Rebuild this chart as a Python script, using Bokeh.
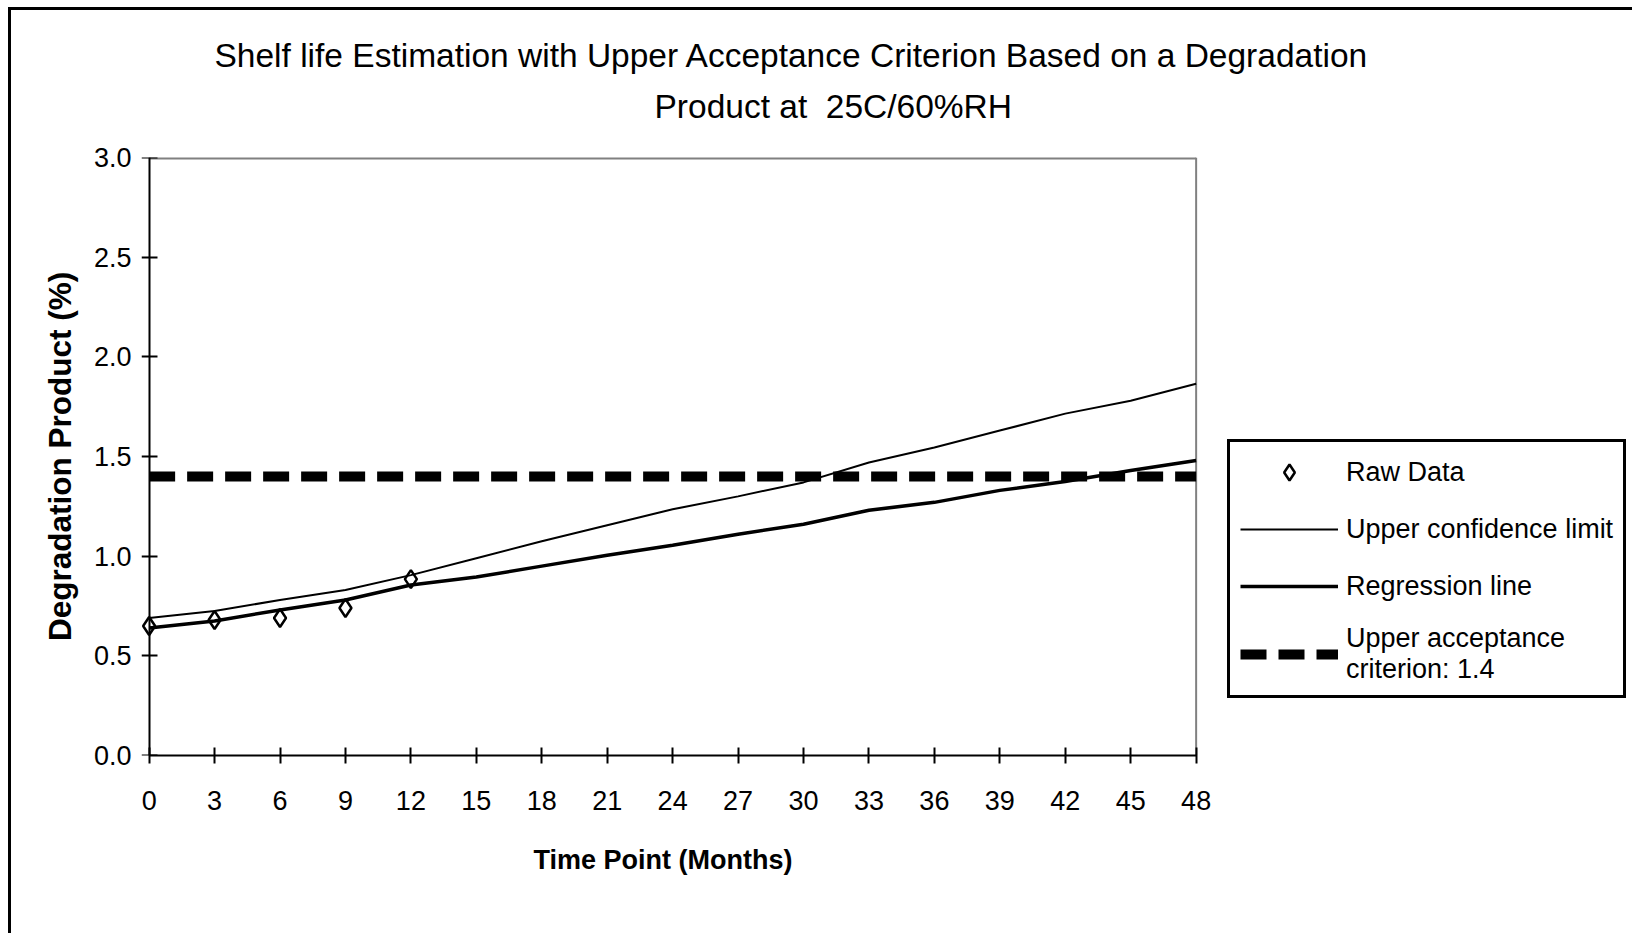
from bokeh.plotting import figure
from bokeh.models import (Legend, LegendItem, FixedTicker, Range1d, Title, LinearAxis)
from bokeh.embed import file_html
from bokeh.resources import INLINE

# ---------------- data ----------------
title_line1 = "Shelf life Estimation with Upper Acceptance Criterion Based on a Degradation"
title_line2 = "Product at\u00a0\u00a025C/60%RH"
x_label = "Time Point (Months)"
y_label = "Degradation Product (%)"

months = [0, 3, 6, 9, 12, 15, 18, 21, 24, 27, 30, 33, 36, 39, 42, 45, 48]
upper_confidence = [0.69, 0.725, 0.78, 0.83, 0.905, 0.99, 1.075, 1.155, 1.235,
                    1.30, 1.37, 1.47, 1.545, 1.63, 1.715, 1.78, 1.865]
regression = [0.64, 0.675, 0.73, 0.78, 0.855, 0.895, 0.95, 1.005, 1.055,
              1.11, 1.16, 1.23, 1.27, 1.33, 1.375, 1.43, 1.48]

raw_months = [0, 3, 6, 9, 12]
raw_values = [0.65, 0.68, 0.69, 0.74, 0.885]

criterion = 1.4

x_ticks = [0, 3, 6, 9, 12, 15, 18, 21, 24, 27, 30, 33, 36, 39, 42, 45, 48]
y_ticks = [0.0, 0.5, 1.0, 1.5, 2.0, 2.5, 3.0]
y_tick_labels = ["0.0", "0.5", "1.0", "1.5", "2.0", "2.5", "3.0"]

legend_labels = ["Raw Data", "Upper confidence limit", "Regression line",
                 "Upper acceptance\ncriterion: 1.4"]

# ---------------- layout ----------------
FONT = "Liberation Sans"
PX_PER_MONTH = 1047 / 48          # width of the axis area 0..48 months
X_START = -0.35                   # small room so the marker at 0 is not cut
FRAME_W = 1490                    # frame also holds the legend on the right
X_END = X_START + FRAME_W / PX_PER_MONTH
FIG_W, FIG_H = 1624, 926

p = figure(width=FIG_W, height=FIG_H,
           x_range=Range1d(X_START, X_END), y_range=Range1d(0, 3),
           output_backend="svg", toolbar_location=None,
           min_border_left=130, min_border_top=147,
           min_border_right=FIG_W - 130 - FRAME_W, min_border_bottom=FIG_H - 147 - 598)
p.styles = {"border-top": "3px solid black", "border-left": "3px solid black",
            "margin-left": "8px", "margin-top": "7px"}
p.outline_line_color = None
p.background_fill_color = "white"
p.border_fill_color = "white"
p.xgrid.visible = False
p.ygrid.visible = False

# ---------------- title (two lines) ----------------
# spacer between the plot area and the second title line
p.add_layout(Title(text="\u00a0", text_font_size="1px", standoff=30), "above")
p.add_layout(Title(text=title_line2, align="left", offset=513, standoff=0,
                   text_font=FONT, text_font_size="33.5px", text_font_style="normal",
                   text_color="black"), "above")
p.title.text = title_line1
p.title.align = "left"
p.title.offset = 73
p.title.standoff = 24
p.title.text_font = FONT
p.title.text_font_size = "33.5px"
p.title.text_font_style = "normal"
p.title.text_color = "black"

# x axis
xa = p.xaxis[0]
xa.ticker = FixedTicker(ticks=x_ticks)
xa.bounds = (x_ticks[0], x_ticks[-1])
xa.major_label_text_font = FONT
xa.major_label_text_font_size = "27px"
xa.major_label_text_color = "black"
xa.major_label_standoff = 27
xa.axis_line_color = "black"
xa.axis_line_width = 2
xa.major_tick_line_color = "black"
xa.major_tick_line_width = 2
xa.major_tick_in = 8
xa.major_tick_out = 8
xa.minor_tick_line_color = None

# x axis title (placed under the 0..48 span)
p.add_layout(Title(text=x_label, align="left", offset=392, standoff=60,
                   text_font=FONT, text_font_size="27px", text_font_style="bold",
                   text_color="black"), "below")

# y axis: labels (left panel)
ya = p.yaxis[0]
ya.ticker = FixedTicker(ticks=y_ticks)
ya.major_label_overrides = {t: l for t, l in zip(y_ticks, y_tick_labels)}
ya.axis_label = y_label
ya.axis_label_text_font = FONT
ya.axis_label_text_font_style = "bold"
ya.axis_label_text_font_size = "31.5px"
ya.axis_label_text_color = "black"
ya.axis_label_standoff = 13
ya.major_label_text_font = FONT
ya.major_label_text_font_size = "27px"
ya.major_label_text_color = "black"
ya.major_label_standoff = 10
ya.axis_line_color = None
ya.major_tick_line_color = None
ya.major_tick_in = 0
ya.major_tick_out = 0
ya.minor_tick_line_color = None

# y axis: line and ticks at x = 0
yline = LinearAxis(fixed_location=0, ticker=FixedTicker(ticks=y_ticks),
                   major_label_text_font_size="0px", major_label_text_color=None,
                   axis_line_color="black", axis_line_width=2,
                   major_tick_line_color="black", major_tick_line_width=2,
                   major_tick_in=8, major_tick_out=8, minor_tick_line_color=None)
p.add_layout(yline, "left")

# plot-area border (grey, top and right)
p.line([x_ticks[0], x_ticks[-1]], [y_ticks[-1], y_ticks[-1]], line_color="#808080", line_width=4)
p.line([x_ticks[-1], x_ticks[-1]], [y_ticks[0], y_ticks[-1]], line_color="#808080", line_width=2)

# ---------------- glyphs ----------------
r_upper = p.line(months, upper_confidence, line_color="black", line_width=2)
r_reg = p.line(months, regression, line_color="black", line_width=3.5)
r_crit = p.line([x_ticks[0], x_ticks[-1]], [criterion, criterion], line_color="black",
                line_width=10, line_dash="26 12")
r_raw = p.scatter(raw_months, raw_values, marker="diamond", size=18,
                  line_color="black", line_width=2.5, fill_color="white", fill_alpha=0.0)

# ---------------- legend ----------------
legend = Legend(items=[
    LegendItem(label=legend_labels[0], renderers=[r_raw]),
    LegendItem(label=legend_labels[1], renderers=[r_upper]),
    LegendItem(label=legend_labels[2], renderers=[r_reg]),
    LegendItem(label=legend_labels[3], renderers=[r_crit]),
], location=(1086, 57))
legend.label_text_font = FONT
legend.label_text_font_size = "27px"
legend.label_text_color = "black"
legend.glyph_width = 98
legend.glyph_height = 40
legend.label_standoff = 8
legend.padding = 10
legend.spacing = 17
legend.border_line_color = "black"
legend.border_line_alpha = 1.0
legend.border_line_width = 3
legend.background_fill_color = "white"
legend.background_fill_alpha = 1.0
p.add_layout(legend, "center")

open("out.html", "w").write(file_html(p, INLINE))
